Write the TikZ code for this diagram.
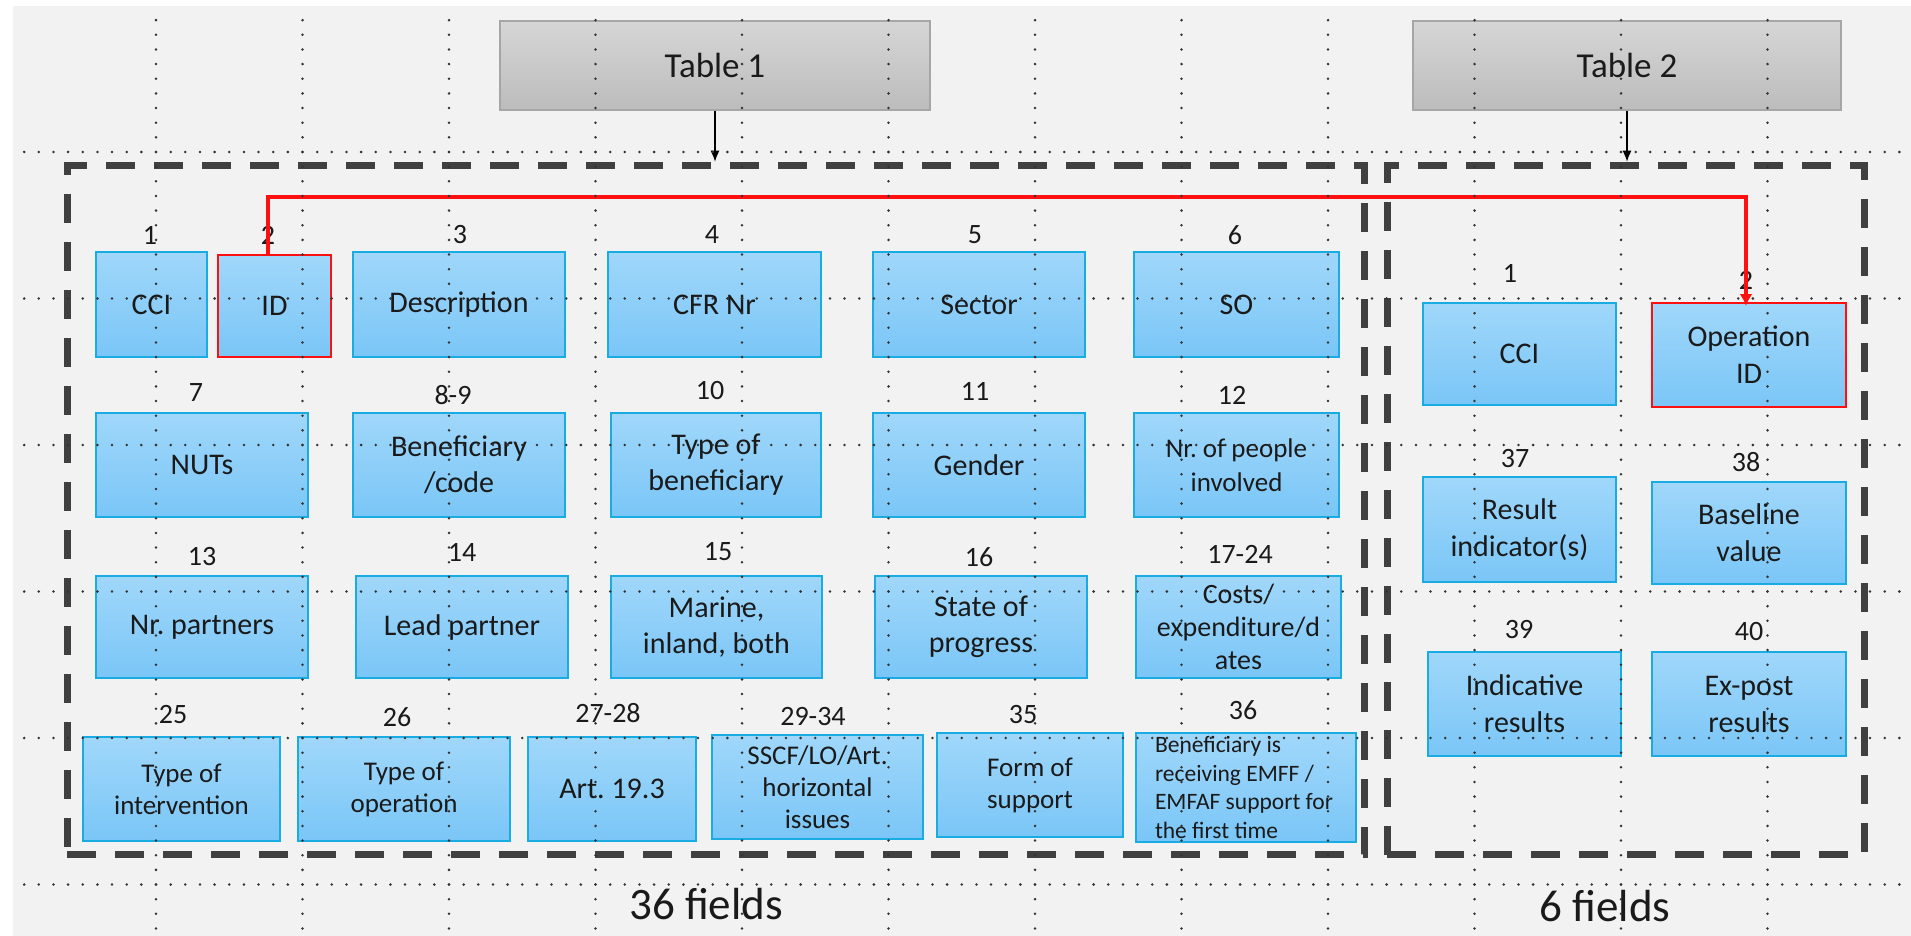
\documentclass[tikz,border=0pt]{standalone}
\usepackage{fontspec}
\setmainfont{Carlito}
\usetikzlibrary{arrows.meta}
\frenchspacing
\definecolor{bg}{HTML}{F2F2F2}
\definecolor{boxtop}{HTML}{A0D7FA}
\definecolor{boxbot}{HTML}{7AC6F7}
\definecolor{boxborder}{HTML}{19ACE3}
\definecolor{hdtop}{HTML}{D6D6D6}
\definecolor{hdbot}{HTML}{BCBCBC}
\definecolor{hdborder}{HTML}{A6A6A6}
\definecolor{dashcol}{HTML}{404040}
\definecolor{gridcol}{HTML}{333333}
\definecolor{txt}{HTML}{1A1A1A}
\definecolor{redline}{HTML}{FF1010}
\begin{document}
\begin{tikzpicture}[x=1pt,y=-1pt,
  fbox/.style={draw=boxborder, line width=2pt, top color=boxtop, bottom color=boxbot,
    align=center, inner sep=0pt, text=txt, font=\fontsize{30}{36}\selectfont},
  rbox/.style={fbox, draw=redline},
  smallbox/.style={fbox, font=\fontsize{27}{32}\selectfont},
  hdbox/.style={draw=hdborder, line width=2pt, top color=hdtop, bottom color=hdbot,
    inner sep=0pt, text=txt, font=\fontsize{35}{40}\selectfont},
  dbox/.style={draw=dashcol, line width=7pt, dash pattern=on 29pt off 19pt, inner sep=0pt},
  num/.style={inner sep=0pt, text=txt, font=\fontsize{28}{28}\selectfont},
  bigtxt/.style={inner sep=0pt, text=txt, font=\fontsize{45}{45}\selectfont},
  griddots/.style={draw=gridcol, line width=2.8pt, line cap=round, dash pattern=on 0pt off 14.65pt},
  blackarrow/.style={draw=black, line width=1.5pt, -{Latex[length=11pt,width=9pt]}},
  redarrow/.style={draw=redline, line width=4pt, -{Latex[length=12pt,width=13pt]}}
]
\useasboundingbox (0,0) rectangle (1911,936);
\fill[white] (0,0) rectangle (1911,936);
\fill[bg] (13,6) rectangle (1911,936);

% dashed table frames
\node[dbox, minimum width=1297pt, minimum height=689.5pt] (D1) at (715.5,510) {};
\node[dbox, minimum width=477pt, minimum height=689.5pt] (D2) at (1625.5,510) {};

% table headers
\node[hdbox, minimum width=430pt, minimum height=89pt] (Tab1) at (715,65.5) {Table 1};
\node[hdbox, minimum width=428pt, minimum height=89pt] (Tab2) at (1627,65.5) {Table 2};

% Table 1, row 1
\node[fbox, minimum width=111pt, minimum height=105pt] (cci) at (151.5,304.5) {CCI};
\node[rbox, minimum width=113pt, minimum height=102pt] (id) at (274.5,306) {ID};
\node[fbox, minimum width=212pt, minimum height=105pt] (desc) at (459,304.5) {Description};
\node[fbox, minimum width=213pt, minimum height=105pt] (cfr) at (714.5,304.5) {CFR Nr};
\node[fbox, minimum width=212pt, minimum height=105pt] (sector) at (979,304.5) {Sector};
\node[fbox, minimum width=205pt, minimum height=105pt] (so) at (1236.5,304.5) {SO};
% row 2
\node[fbox, minimum width=212pt, minimum height=104pt] (nuts) at (202,465) {NUTs};
\node[fbox, minimum width=212pt, minimum height=104pt] (benef) at (459,465) {Beneficiary\\/code};
\node[fbox, minimum width=210pt, minimum height=104pt] (typeb) at (716,465) {Type of\\beneficiary};
\node[fbox, minimum width=212pt, minimum height=104pt] (gender) at (979,465) {Gender};
\node[fbox, minimum width=205pt, minimum height=104pt, font=\fontsize{27}{34}\selectfont] (people) at (1236.5,465) {Nr. of people\\involved};
% row 3
\node[fbox, minimum width=212pt, minimum height=102pt] (partners) at (202,627) {Nr. partners};
\node[fbox, minimum width=212pt, minimum height=102pt] (lead) at (462,627) {Lead partner};
\node[fbox, minimum width=211pt, minimum height=102pt] (marine) at (716.5,627) {Marine,\\inland, both};
\node[fbox, minimum width=212pt, minimum height=102pt] (state) at (981,627) {State of\\progress};
\node[fbox, minimum width=205pt, minimum height=102pt, font=\fontsize{28}{33}\selectfont] (costs) at (1238.5,627) {Costs/\\expenditure/d\\ates};
% row 4
\node[smallbox, minimum width=197pt, minimum height=104pt] (interv) at (181.5,789) {Type of\\intervention};
\node[smallbox, minimum width=212pt, minimum height=104pt] (oper) at (404,789) {Type of\\operation};
\node[fbox, minimum width=168pt, minimum height=104pt] (art) at (612,789) {Art. 19.3};
\node[smallbox, minimum width=211pt, minimum height=104pt] (sscf) at (817.5,787) {SSCF/LO/Art.\\horizontal\\issues};
\node[smallbox, minimum width=186pt, minimum height=104pt] (form) at (1030,785) {Form of\\support};
\node[fbox, minimum width=220pt, minimum height=109pt, align=left, font=\fontsize{23.5}{28.5}\selectfont] (first) at (1246,787.5) {\makebox[182pt][l]{Beneficiary is}\\receiving EMFF /\\EMFAF support for\\the first time};

% Table 2
\node[fbox, minimum width=193pt, minimum height=102pt] (cci2) at (1519.5,354) {CCI};
\node[rbox, minimum width=194pt, minimum height=104pt, font=\fontsize{30}{37}\selectfont] (opid) at (1749,355) {Operation\\ID};
\node[fbox, minimum width=193pt, minimum height=105pt, font=\fontsize{30}{37}\selectfont] (result) at (1519.5,529.5) {Result\\indicator(s)};
\node[fbox, minimum width=194pt, minimum height=102pt, font=\fontsize{30}{37}\selectfont] (baseline) at (1749,533) {Baseline\\value};
\node[fbox, minimum width=193pt, minimum height=104pt, font=\fontsize{30}{37}\selectfont] (indic) at (1524.5,704) {Indicative\\results};
\node[fbox, minimum width=194pt, minimum height=104pt, font=\fontsize{30}{37}\selectfont] (expost) at (1749,704) {Ex-post\\results};

% numbers
\node[num] (n1) at (150,235) {1};
\node[num] (n2) at (268,235) {2};
\node[num] (n3) at (460,235) {3};
\node[num] (n4) at (712,235) {4};
\node[num] (n5) at (975,235) {5};
\node[num] (n6) at (1235,235) {6};
\node[num] (n7) at (196,393) {7};
\node[num] (n89) at (453,395) {8-9};
\node[num] (n10) at (710,391) {10};
\node[num] (n11) at (975,391) {11};
\node[num] (n12) at (1232,395) {12};
\node[num] (n13) at (202,557) {13};
\node[num] (n14) at (462,552) {14};
\node[num] (n15) at (718,552) {15};
\node[num] (n16) at (979,557) {16};
\node[num] (n1724) at (1240,554) {17-24};
\node[num] (n25) at (173,715) {25};
\node[num] (n26) at (397,717) {26};
\node[num] (n2728) at (608,713) {27-28};
\node[num] (n2934) at (813,717) {29-34};
\node[num] (n35) at (1023,715) {35};
\node[num] (n36) at (1243,710) {36};
\node[num] (t1) at (1510,273) {1};
\node[num] (t2) at (1746,280) {2};
\node[num] (n37) at (1515,459) {37};
\node[num] (n38) at (1746,462) {38};
\node[num] (n39) at (1519,630) {39};
\node[num] (n40) at (1749,632) {40};

% bottom labels
\node[bigtxt] (f36) at (706,904) {36 fields};
\node[bigtxt] (f6) at (1605,906) {6 fields};

% connectors
\draw[blackarrow] (Tab1.south) -- (Tab1.south |- D1.north);
\draw[blackarrow] (Tab2.south) -- (Tab2.south |- D2.north);
\draw[redarrow, shorten >=-4pt] ([xshift=-6.5pt]id.north) -- ++(0,-57) -| ([xshift=-3pt]opid.north);

% dotted grid overlay
\foreach \i in {0,...,11} {
  \draw[griddots] (156+146.5*\i,20.15) -- (156+146.5*\i,936);
}
\foreach \j in {0,...,5} {
  \draw[griddots] (24.15,152+146.5*\j) -- (1911,152+146.5*\j);
}
\end{tikzpicture}
\end{document}
